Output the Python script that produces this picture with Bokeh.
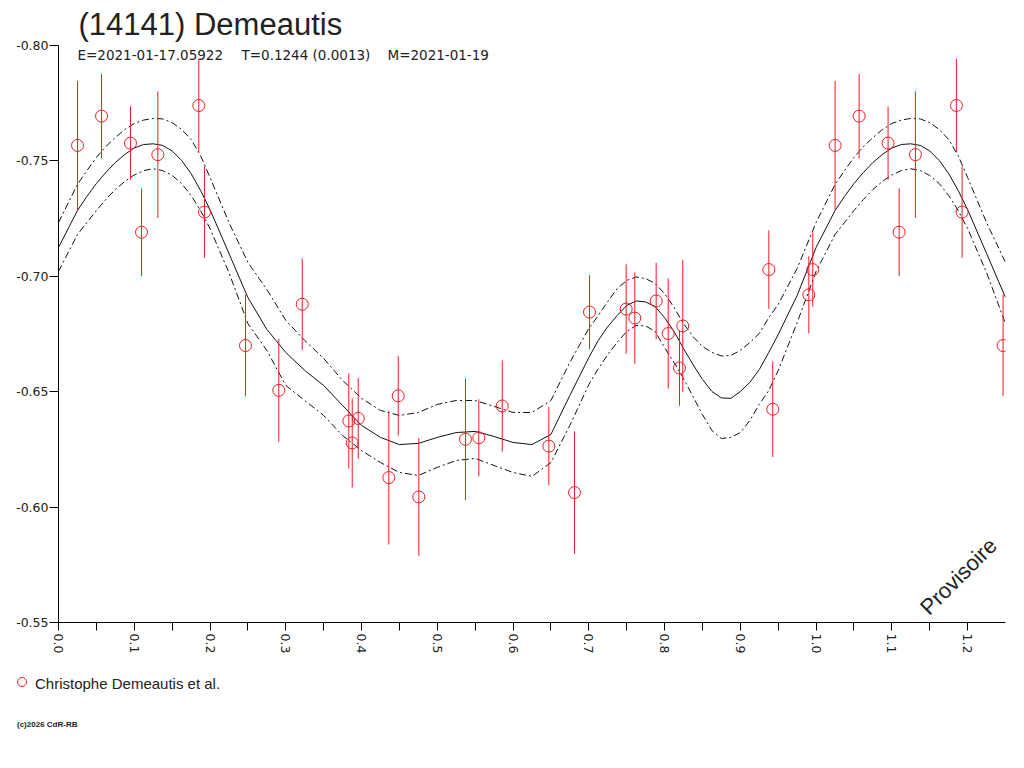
from math import pi
from bokeh.plotting import figure
from bokeh.layouts import column
from bokeh.models import Range1d, FixedTicker, PrintfTickFormatter, Label, Div
from bokeh.embed import file_html
from bokeh.resources import INLINE

# measured points (phase, reduced magnitude, 1-sigma error)
phase = [0.0251, 0.0568, 0.0950, 0.1096, 0.1311, 0.1852, 0.1927, 0.2468,
         0.2908, 0.3217, 0.3832, 0.3877, 0.3956, 0.4360, 0.4484, 0.4756,
         0.5372, 0.5548, 0.5857, 0.6472, 0.6811, 0.7009, 0.7493, 0.7607,
         0.7889, 0.8048, 0.8197, 0.8240, 0.9376, 0.9428, 0.9904, 0.9956]
mag = [-0.7567, -0.7694, -0.7577, -0.7191, -0.7527, -0.7740, -0.7278, -0.6700,
       -0.6506, -0.6879, -0.6373, -0.6278, -0.6384, -0.6128, -0.6482, -0.6044,
       -0.6294, -0.6300, -0.6438, -0.6264, -0.6063, -0.6845, -0.6858, -0.6819,
       -0.6893, -0.6752, -0.6603, -0.6785, -0.7029, -0.6424, -0.6920, -0.7029]
err = [0.0280, 0.0183, 0.0159, 0.0190, 0.0274, 0.0202, 0.0198, 0.0220,
       0.0223, 0.0198, 0.0206, 0.0193, 0.0175, 0.0290, 0.0172, 0.0255,
       0.0263, 0.0167, 0.0198, 0.0170, 0.0265, 0.0160, 0.0194, 0.0198,
       0.0166, 0.0239, 0.0164, 0.0287, 0.0170, 0.0207, 0.0167, 0.0161]

# fitted curve and its envelope over one period
fit_phase = [0.0, 0.025, 0.0375, 0.05, 0.0625, 0.075, 0.0875, 0.1, 0.1125, 0.125,
             0.1375, 0.15, 0.1625, 0.175, 0.1875, 0.2, 0.225, 0.25, 0.275, 0.3,
             0.325, 0.35, 0.375, 0.4, 0.425, 0.45, 0.475, 0.5, 0.525, 0.55,
             0.575, 0.6, 0.625, 0.65, 0.675, 0.7, 0.7125, 0.725, 0.7375, 0.75,
             0.7625, 0.775, 0.7875, 0.8, 0.8125, 0.825, 0.8375, 0.85, 0.8625,
             0.875, 0.8875, 0.9, 0.9125, 0.925, 0.9375, 0.95, 0.975]
fit_mag = [-0.7125, -0.7285, -0.7346, -0.7402, -0.7450, -0.7493, -0.7528, -0.7556,
           -0.7571, -0.7574, -0.7567, -0.7543, -0.7502, -0.7445, -0.7372, -0.7289,
           -0.7099, -0.6908, -0.6770, -0.6670, -0.6592, -0.6527, -0.6440, -0.6354,
           -0.6302, -0.6271, -0.6276, -0.6302, -0.6323, -0.6328, -0.6306, -0.6280,
           -0.6271, -0.6315, -0.6484, -0.6648, -0.6722, -0.6782, -0.6830, -0.6874,
           -0.6893, -0.6889, -0.6869, -0.6821, -0.6761, -0.6687, -0.6618, -0.6553,
           -0.6501, -0.6473, -0.6471, -0.6501, -0.6540, -0.6596, -0.6670, -0.6748,
           -0.6917]
fit_hi = [-0.7233, -0.7398, -0.7458, -0.7515, -0.7562, -0.7601, -0.7636, -0.7662,
          -0.7677, -0.7684, -0.7682, -0.7666, -0.7636, -0.7593, -0.7523, -0.7428,
          -0.7233, -0.7060, -0.6943, -0.6809, -0.6722, -0.6644, -0.6549, -0.6471,
          -0.6419, -0.6397, -0.6410, -0.6445, -0.6462, -0.6462, -0.6436, -0.6410,
          -0.6410, -0.6462, -0.6627, -0.6774, -0.6830, -0.6891, -0.6947, -0.6982,
          -0.6997, -0.6990, -0.6969, -0.6925, -0.6865, -0.6795, -0.6739, -0.6696,
          -0.6670, -0.6655, -0.6657, -0.6679, -0.6713, -0.6752, -0.6821, -0.6878,
          -0.7034]
fit_lo = [-0.7021, -0.7181, -0.7233, -0.7285, -0.7333, -0.7376, -0.7411, -0.7439,
          -0.7458, -0.7466, -0.7458, -0.7437, -0.7402, -0.7350, -0.7285, -0.7207,
          -0.7016, -0.6795, -0.6679, -0.6527, -0.6462, -0.6397, -0.6310, -0.6245,
          -0.6193, -0.6150, -0.6137, -0.6172, -0.6202, -0.6211, -0.6180, -0.6150,
          -0.6133, -0.6193, -0.6354, -0.6531, -0.6600, -0.6661, -0.6714, -0.6761,
          -0.6787, -0.6785, -0.6761, -0.6691, -0.6627, -0.6557, -0.6479, -0.6401,
          -0.6332, -0.6297, -0.6302, -0.6323, -0.6375, -0.6445, -0.6505, -0.6592,
          -0.6800]

x_ticks = [0.0, 0.1, 0.2, 0.3, 0.4, 0.5, 0.6, 0.7, 0.8, 0.9, 1.0, 1.1, 1.2]
y_ticks = [-0.80, -0.75, -0.70, -0.65, -0.60, -0.55]

title = "(14141) Demeautis"
info = ["E=2021-01-17.05922", "T=0.1244 (0.0013)", "M=2021-01-19"]
observer = "Christophe Demeautis et al."
credit = "(c)2026 CdR-RB"

# the plot shows phase 0 .. 1.25, so the first quarter is repeated after 1
px = phase + [f + 1 for f in phase if f <= 0.25]
py = mag + [m for f, m in zip(phase, mag) if f <= 0.25]
pe = err + [e for f, e in zip(phase, err) if f <= 0.25]
wrap = [i for i, f in enumerate(fit_phase) if f <= 0.25]
cx = fit_phase + [fit_phase[i] + 1 for i in wrap] + [1.25]
cy = fit_mag + [fit_mag[i] for i in wrap] + [fit_mag[wrap[-1]]]
chi = fit_hi + [fit_hi[i] for i in wrap] + [fit_hi[wrap[-1]]]
clo = fit_lo + [fit_lo[i] for i in wrap] + [fit_lo[wrap[-1]]]

FONT = "Liberation Sans"
TICKFONT = "DejaVu Sans"
INK = "#222222"
RED = "#ee1c24"

p = figure(frame_width=947, frame_height=577,
           min_border_left=58, min_border_right=3,
           min_border_top=45, min_border_bottom=45,
           x_range=Range1d(0, 1.25), y_range=Range1d(-0.55, -0.80),
           output_backend="svg", toolbar_location=None)
p.outline_line_color = None
p.xgrid.visible = False
p.ygrid.visible = False

p.title.text = title
p.title.align = "left"
p.title.offset = 20
p.title.standoff = 8
p.title.text_font = FONT
p.title.text_font_size = "31px"
p.title.text_font_style = "normal"
p.title.text_color = INK

p.line(cx, cy, line_color="#111111", line_width=1)
p.line(cx, chi, line_color="#111111", line_width=1, line_dash="7 3 2 3")
p.line(cx, clo, line_color="#111111", line_width=1, line_dash="7 3 2 3")

p.segment(x0=px, y0=[m - e for m, e in zip(py, pe)],
          x1=px, y1=[m + e for m, e in zip(py, pe)],
          line_color=RED, line_width=1)
p.scatter(px, py, marker="circle", size=12, fill_color=None,
          line_color=RED, line_width=1)

for ax in (p.xaxis[0], p.yaxis[0]):
    ax.axis_line_color = "black"
    ax.major_tick_line_color = "black"
    ax.minor_tick_line_color = "black"
    ax.major_tick_in = 0
    ax.minor_tick_in = 0
    ax.major_label_text_font = TICKFONT
    ax.major_label_text_color = INK
    ax.major_label_text_font_size = "12.5px"

p.xaxis.ticker = FixedTicker(ticks=x_ticks,
                             minor_ticks=[0.05 + 0.1 * i for i in range(13)])
p.xaxis.formatter = PrintfTickFormatter(format="%.1f")
p.xaxis.major_label_orientation = -pi / 2
p.xaxis.major_tick_out = 8
p.xaxis.minor_tick_out = 8
p.xaxis.major_label_standoff = 3

p.yaxis.ticker = FixedTicker(ticks=y_ticks, minor_ticks=[])
p.yaxis.formatter = PrintfTickFormatter(format="%.2f")
p.yaxis.major_tick_out = 9
p.yaxis.major_label_standoff = 1

for xi, t in zip([77, 241, 387], info):
    p.add_layout(Label(x=xi, y=54, x_units="canvas", y_units="canvas", text=t,
                       text_font=TICKFONT, text_font_size="13.5px",
                       text_color=INK, text_baseline="alphabetic"))
p.add_layout(Label(x=1.188, y=-0.570, text="Provisoire", angle=pi / 4,
                   text_font=FONT, text_font_size="22px", text_color=INK,
                   text_align="center", text_baseline="middle"))

# footer: observer key and credit line
foot_html = f"""
<div style="position:relative;width:1008px;height:85px;font-family:'{FONT}';color:{INK};">
  <span style="position:absolute;left:17px;top:10px;width:10px;height:10px;
        border:1px solid {RED};border-radius:50%;"></span>
  <span style="position:absolute;left:35px;top:9px;font-size:15px;line-height:15px;
        white-space:nowrap;">{observer}</span>
  <span style="position:absolute;left:17px;top:54px;font-size:8px;line-height:8px;
        font-weight:bold;white-space:nowrap;">{credit}</span>
</div>
"""
foot = Div(text=foot_html, width=1008, height=85, margin=0)

layout = column(p, foot, spacing=0)
open("out.html", "w").write(file_html(layout, INLINE))
